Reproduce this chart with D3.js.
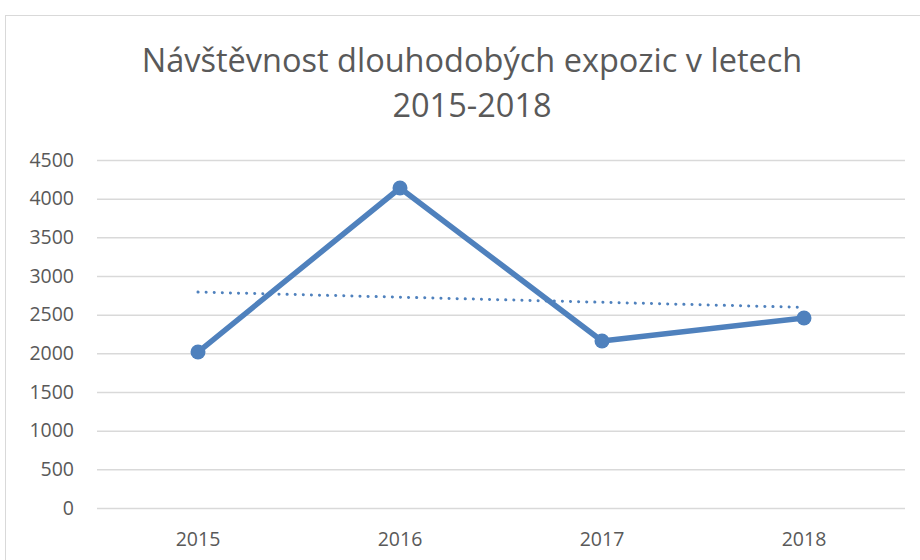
<!DOCTYPE html>
<html>
<head>
<meta charset="utf-8">
<script src="https://cdn.jsdelivr.net/npm/d3@7"></script>
<style>
  body { margin: 0; background: #fff; }
  svg { display: block; font-family: "Open Sans", "Liberation Sans", Arial, sans-serif; }
</style>
</head>
<body>
<div id="vis"></div>
<script>
// chart data
const YEARS = ["2015", "2016", "2017", "2018"];
const VISITORS = [2017, 4138, 2160, 2457];
const Y_TICKS = [0, 500, 1000, 1500, 2000, 2500, 3000, 3500, 4000, 4500];
const TITLE_LINES = ["Návštěvnost dlouhodobých expozic v letech", "2015-2018"];

const FRAME_WIDTH = 920;
const FRAME_HEIGHT = 560;
const MARGINS = {left: 97, right: 15, top: 160, bottom: 52};
const BLUE = "#4F81BD";
const TEXT = "#595959";
const FONT = "'Open Sans', 'Liberation Sans', Arial, sans-serif";

const FRAME = d3.select("#vis")
  .append("svg")
    .attr("width", FRAME_WIDTH)
    .attr("height", FRAME_HEIGHT);

// chart area border
FRAME.append("rect")
  .attr("x", 5.5).attr("y", 15.5)
  .attr("width", FRAME_WIDTH).attr("height", FRAME_HEIGHT)
  .attr("fill", "none")
  .attr("stroke", "#d9d9d9");

const X_SCALE = d3.scaleBand()
  .domain(YEARS)
  .range([MARGINS.left, FRAME_WIDTH - MARGINS.right]);

const Y_SCALE = d3.scaleLinear()
  .domain([0, 4500])
  .range([FRAME_HEIGHT - MARGINS.bottom, MARGINS.top]);

// gridlines
FRAME.append("g")
  .attr("transform", "translate(" + MARGINS.left + ",0)")
  .call(d3.axisLeft(Y_SCALE).tickValues(Y_TICKS)
        .tickSize(-(FRAME_WIDTH - MARGINS.left - MARGINS.right)).tickFormat("").tickSizeOuter(0))
  .call(g => g.select(".domain").remove())
  .call(g => g.selectAll("line").attr("stroke", "#d9d9d9").attr("stroke-width", 1.5));

// y labels
FRAME.append("g")
  .attr("transform", "translate(" + (MARGINS.left - 23) + ",0)")
  .call(d3.axisLeft(Y_SCALE).tickValues(Y_TICKS).tickFormat(d3.format("d")).tickSize(0).tickPadding(0))
  .call(g => g.select(".domain").remove())
  .call(g => g.selectAll("text")
        .attr("fill", TEXT).attr("font-size", "19.5px")
        .attr("font-family", FONT));

// x labels
FRAME.append("g")
  .attr("transform", "translate(0," + (FRAME_HEIGHT - MARGINS.bottom) + ")")
  .call(d3.axisBottom(X_SCALE).tickSize(0).tickPadding(24))
  .call(g => g.select(".domain").remove())
  .call(g => g.selectAll("text")
        .attr("fill", TEXT).attr("font-size", "19.5px")
        .attr("font-family", FONT));

const cx = (d, i) => X_SCALE(YEARS[i]) + X_SCALE.bandwidth() / 2;

// linear trendline (least squares over category index)
const n = VISITORS.length;
const xs = d3.range(1, n + 1);
const mx = d3.mean(xs), my = d3.mean(VISITORS);
const slope = d3.sum(xs, (x, i) => (x - mx) * (VISITORS[i] - my)) /
              d3.sum(xs, x => (x - mx) * (x - mx));
const intercept = my - slope * mx;
const TREND = xs.map(x => intercept + slope * x);

FRAME.append("path")
  .datum(TREND)
  .attr("fill", "none")
  .attr("stroke", BLUE)
  .attr("stroke-width", 3)
  .attr("stroke-linecap", "round")
  .attr("stroke-dasharray", "0.1 8")
  .attr("d", d3.line().x(cx).y(d => Y_SCALE(d)));

// data line
FRAME.append("path")
  .datum(VISITORS)
  .attr("fill", "none")
  .attr("stroke", BLUE)
  .attr("stroke-width", 5.5)
  .attr("stroke-linejoin", "round")
  .attr("d", d3.line().x(cx).y(d => Y_SCALE(d)));

FRAME.selectAll(".pt")
  .data(VISITORS)
  .enter()
  .append("circle")
    .attr("class", "pt")
    .attr("cx", cx)
    .attr("cy", d => Y_SCALE(d))
    .attr("r", 7.5)
    .attr("fill", BLUE);

// title
FRAME.append("text")
  .attr("x", 472).attr("y", 72)
  .attr("text-anchor", "middle")
  .attr("fill", TEXT)
  .attr("font-size", "32.5px")
  .selectAll("tspan")
  .data(TITLE_LINES)
  .enter()
  .append("tspan")
    .attr("x", 472)
    .attr("dy", (d, i) => i === 0 ? 0 : 45)
    .text(d => d);
</script>
</body>
</html>
